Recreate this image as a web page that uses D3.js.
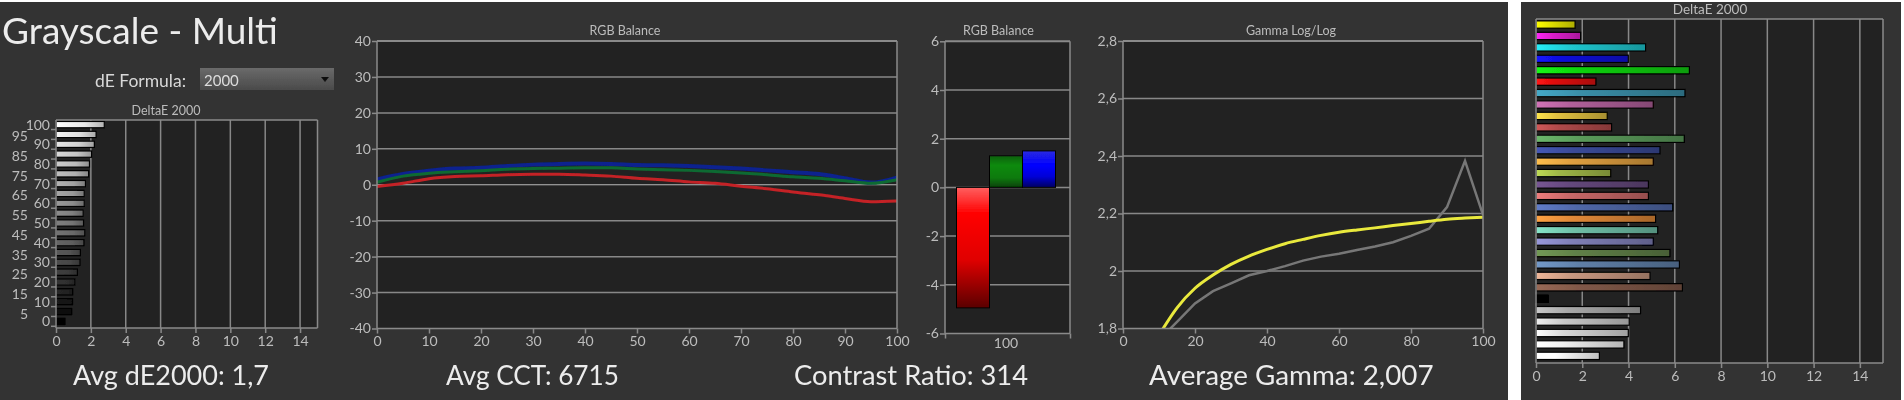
<!DOCTYPE html>
<html lang="en">

<head>
    <title>Grayscale - Multi</title>
    <meta charset="UTF-8">
    <script src="https://cdn.jsdelivr.net/npm/d3@7"></script>
    <style>
        html, body {
            margin: 0;
            padding: 0;
            background: #fff;
            overflow: hidden;
        }

        svg {
            display: block;
            font-family: Lato, "Open Sans", sans-serif;
        }

        .tick text {
            fill: #bcbcbc;
            font-size: 14px;
            font-family: Lato, sans-serif;
        }

        .tick line, .domain {
            stroke: #8a8a8a;
            stroke-width: 1.5;
        }

        .grid {
            stroke: #888888;
            stroke-width: 1.5;
        }

        .plot-title {
            fill: #bcbcbc;
            font-size: 12.5px;
            text-anchor: middle;
        }

        .big-label {
            fill: #ececec;
            font-size: 27px;
        }
    </style>
</head>

<body>
    <div id="wrap"></div>
    <script>
        // grayscale deltaE bars, top to bottom
        var grayLevels = [100, 95, 90, 85, 80, 75, 70, 65, 60, 55, 50, 45, 40, 35, 30, 25, 20, 15, 10, 5, 0];
        var grayDeltaE = [2.77, 2.3, 2.2, 2.04, 1.92, 1.87, 1.69, 1.62, 1.62, 1.56, 1.58, 1.65, 1.6, 1.4, 1.38, 1.23, 1.08, 0.96, 0.95, 0.9, 0.52];

        // rgb balance lines
        var balanceLevels = [0, 5, 10, 15, 20, 25, 30, 35, 40, 45, 50, 55, 60, 65, 70, 75, 80, 85, 90, 95, 100];
        var balanceRed = [-0.5, 0.4, 1.7, 2.3, 2.5, 2.8, 2.9, 2.9, 2.7, 2.4, 1.8, 1.4, 0.8, 0.4, -0.4, -1.1, -2, -2.8, -3.8, -4.7, -4.5];
        var balanceGreen = [0.7, 2.4, 3.2, 3.6, 3.9, 4.3, 4.5, 4.6, 4.7, 4.7, 4.4, 4.2, 4, 3.7, 3.3, 2.8, 2.2, 1.8, 1.1, 0.4, 1.4];
        var balanceBlue = [1.5, 3, 3.9, 4.5, 4.7, 5.2, 5.6, 5.8, 5.9, 5.8, 5.5, 5.4, 5.2, 4.9, 4.5, 4, 3.5, 3, 1.8, 0.6, 2];

        // rgb balance at 100%
        var balanceBarNames = ['R', 'G', 'B'];
        var balanceBarValues = [-4.95, 1.3, 1.5];

        // gamma
        var gammaLevels = [10, 15, 20, 25, 30, 35, 40, 45, 50, 55, 60, 65, 70, 75, 80, 85, 90, 95, 100];
        var gammaTarget = [1.777, 1.872, 1.94, 1.986, 2.023, 2.052, 2.075, 2.095, 2.11, 2.124, 2.135, 2.143, 2.15, 2.158, 2.165, 2.173, 2.18, 2.184, 2.187];
        var gammaMeasured = [1.76, 1.823, 1.887, 1.93, 1.957, 1.985, 2, 2.017, 2.036, 2.05, 2.06, 2.073, 2.085, 2.1, 2.122, 2.147, 2.222, 2.383, 2.195];

        // colour checker deltaE bars, top to bottom
        var patchDeltaE = [1.69, 1.93, 4.74, 3.99, 6.63, 2.59, 6.44, 5.07, 3.08, 3.27, 6.41, 5.36, 5.07, 3.23, 4.86, 4.86, 5.91, 5.17, 5.26, 5.07, 5.79, 6.2, 4.93, 6.33, 0.53, 4.52, 4.03, 3.99, 3.8, 2.74];
        var patchColors = ['#e6e600', '#e020d0', '#20c8d0', '#1010d8', '#10d010', '#e01010', '#3a8ea8', '#b0609a', '#e0c040', '#b04a4a', '#5a9a5a', '#3a4a98', '#e0a040', '#a0b848', '#64487c', '#c86868', '#5068a8', '#e08838', '#70c0a8', '#8080b8', '#608048', '#6080a8', '#c89880', '#805848', '#000000', '#a8a8a8', '#c8c8c8', '#d8d8d8', '#f0f0f0', '#ffffff'];

        var xTicksDelta = [0, 2, 4, 6, 8, 10, 12, 14];
        var balanceTicks = [-40, -30, -20, -10, 0, 10, 20, 30, 40];
        var balanceBarTicks = [-6, -4, -2, 0, 2, 4, 6];
        var gammaTicks = [1.8, 2, 2.2, 2.4, 2.6, 2.8];
        var levelTicks = [0, 10, 20, 30, 40, 50, 60, 70, 80, 90, 100];
        var gammaXTicks = [0, 20, 40, 60, 80, 100];

        var WIDTH = 1904,
            HEIGHT = 400;

        var root = d3.select('#wrap').append('svg').attr('width', WIDTH).attr('height', HEIGHT);
        var defs = root.append('defs');
        var gradId = 0;

        // the source is a soft screenshot, the right panel more so
        defs.append('filter').attr('id', 'softLeft').attr('filterUnits', 'userSpaceOnUse')
            .attr('x', 0).attr('y', 0).attr('width', WIDTH).attr('height', HEIGHT)
            .append('feGaussianBlur').attr('stdDeviation', 0.4);
        defs.append('filter').attr('id', 'softRight').attr('filterUnits', 'userSpaceOnUse')
            .attr('x', 0).attr('y', 0).attr('width', WIDTH).attr('height', HEIGHT)
            .append('feGaussianBlur').attr('stdDeviation', 0.75);

        // backgrounds
        root.append('rect').attr('x', 0).attr('y', 2).attr('width', 1508).attr('height', 398).attr('fill', '#333333');
        root.append('rect').attr('x', 1521).attr('y', 2).attr('width', 380).attr('height', 398).attr('fill', '#333333');

        var svg = root.append('g').attr('filter', 'url(#softLeft)');

        function comma(v) {
            return String(v).replace('.', ',');
        }

        function gradient(stops, vertical) {
            var id = 'grad' + (gradId++);
            var g = defs.append('linearGradient').attr('id', id)
                .attr('x1', 0).attr('y1', 0)
                .attr('x2', vertical ? 0 : 1).attr('y2', vertical ? 1 : 0);
            stops.forEach(function(s) {
                g.append('stop').attr('offset', s[0]).attr('stop-color', s[1]);
            });
            return 'url(#' + id + ')';
        }

        function frame(x0, x1, y0, y1) {
            svg.append('rect').attr('x', x0).attr('y', y0).attr('width', x1 - x0).attr('height', y1 - y0).attr('fill', '#232323');
        }

        function border(x0, x1, y0, y1, topWidth) {
            var g = svg.append('g').attr('fill', 'none').attr('stroke', '#8a8a8a');
            g.append('line').attr('x1', x0).attr('x2', x1).attr('y1', y0).attr('y2', y0).attr('stroke-width', topWidth);
            g.append('line').attr('x1', x1).attr('x2', x1).attr('y1', y0).attr('y2', y1).attr('stroke-width', 1.5);
            g.append('line').attr('x1', x0).attr('x2', x1).attr('y1', y1).attr('y2', y1).attr('stroke-width', 1.5);
            g.append('line').attr('x1', x0).attr('x2', x0).attr('y1', y0).attr('y2', y1).attr('stroke-width', 1.5);
        }

        function vGrid(scale, values, y0, y1) {
            svg.append('g').selectAll('line').data(values).enter().append('line')
                .attr('class', 'grid')
                .attr('x1', function(d) { return scale(d); })
                .attr('x2', function(d) { return scale(d); })
                .attr('y1', y0).attr('y2', y1);
        }

        function hGrid(scale, values, x0, x1) {
            svg.append('g').selectAll('line').data(values).enter().append('line')
                .attr('class', 'grid')
                .attr('x1', x0).attr('x2', x1)
                .attr('y1', function(d) { return scale(d); })
                .attr('y2', function(d) { return scale(d); });
        }

        function xAxis(scale, values, y, fmt) {
            var g = svg.append('g').attr('transform', 'translate(0,' + y + ')')
                .call(d3.axisBottom(scale).tickValues(values).tickSize(5).tickPadding(3).tickFormat(fmt || function(d) { return d; }));
            g.select('.domain').remove();
            return g;
        }

        function yAxis(scale, values, x, fmt) {
            var g = svg.append('g').attr('transform', 'translate(' + x + ',0)')
                .call(d3.axisLeft(scale).tickValues(values).tickSize(5).tickPadding(1).tickFormat(fmt || function(d) { return d; }));
            g.select('.domain').remove();
            return g;
        }

        // ---- title area
        svg.append('text').attr('x', 2).attr('y', 44).attr('fill', '#ececec').attr('font-size', 37).text('Grayscale - Multi');
        svg.append('text').attr('x', 95).attr('y', 87).attr('fill', '#d8d8d8').attr('font-size', 17.5).text('dE Formula:');
        svg.append('rect').attr('x', 200).attr('y', 68).attr('width', 134).attr('height', 22)
            .attr('fill', gradient([[0, '#6a6a6a'], [1, '#4a4a4a']], true));
        svg.append('text').attr('x', 204).attr('y', 86).attr('fill', '#dcdcdc').attr('font-size', 15).text('2000');
        svg.append('path').attr('d', d3.line()([[321, 77], [329, 77], [325, 82]])).attr('fill', '#111');

        // ---- grayscale deltaE
        var x1 = d3.scaleLinear().domain([0, 15]).range([56, 317.5]);
        var y1 = d3.scaleBand().domain(grayLevels).range([119.5, 326.5]).paddingInner(0.36).paddingOuter(0.2);
        frame(56, 317.5, 120, 328);
        vGrid(x1, xTicksDelta.slice(1), 120, 328);
        svg.append('text').attr('class', 'plot-title').attr('x', 166).attr('y', 115).text('DeltaE 2000');

        svg.append('g').selectAll('rect').data(grayLevels).enter().append('rect')
            .attr('x', x1(0))
            .attr('y', function(d) { return y1(d); })
            .attr('height', y1.bandwidth())
            .attr('width', function(d, i) { return x1(grayDeltaE[i]) - x1(0); })
            .attr('stroke', '#000').attr('stroke-width', 1.2)
            .attr('fill', function(d) {
                var c = d3.rgb(255 * d / 100, 255 * d / 100, 255 * d / 100);
                return gradient([[0, c.formatHex()], [0.6, c.darker(0.25).formatHex()], [1, c.darker(1).formatHex()]]);
            });
        border(56, 317.5, 120, 328, 1.5);

        var yTickAxis = svg.append('g').attr('transform', 'translate(56,0)')
            .call(d3.axisLeft(y1).tickSize(5).tickPadding(2));
        yTickAxis.select('.domain').remove();
        yTickAxis.selectAll('.tick line').attr('y1', y1.step() / 2).attr('y2', y1.step() / 2);
        yTickAxis.selectAll('.tick text').attr('x', function(d) { return d % 10 === 0 ? -6 : -28; }).attr('dy', function(d) { return d % 10 === 0 ? '0.35em' : '0.5em'; });
        xAxis(x1, xTicksDelta, 328);

        svg.append('text').attr('class', 'big-label').attr('x', 73).attr('y', 385).text('Avg dE2000: 1,7');

        // ---- rgb balance lines
        var x2 = d3.scaleLinear().domain([0, 100]).range([377, 897]);
        var y2 = d3.scaleLinear().domain([-40, 40]).range([328.5, 41]);
        frame(377, 897, 41, 328.5);
        hGrid(y2, [-30, -20, -10, 10, 20, 30], 377, 897);
        svg.append('line').attr('x1', 377).attr('x2', 897).attr('y1', y2(0)).attr('y2', y2(0)).attr('stroke', '#b8b8b8').attr('stroke-width', 1);
        svg.append('text').attr('class', 'plot-title').attr('x', 625).attr('y', 35).text('RGB Balance');

        var line2 = d3.line().x(function(d, i) { return x2(balanceLevels[i]); }).y(function(d) { return y2(d); }).curve(d3.curveMonotoneX);
        [[balanceBlue, '#08208f', 4], [balanceGreen, '#0f6a32', 3], [balanceRed, '#c42026', 3]].forEach(function(s) {
            svg.append('path').datum(s[0]).attr('d', line2).attr('fill', 'none').attr('stroke', s[1]).attr('stroke-width', s[2]);
        });
        border(377, 897, 41, 328.5, 2);
        xAxis(x2, levelTicks, 328.5);
        yAxis(y2, balanceTicks, 377);

        svg.append('text').attr('class', 'big-label').attr('x', 446).attr('y', 385).attr('style', 'font-size:26.2px').text('Avg CCT: 6715');

        // ---- rgb balance bars
        var x3 = d3.scaleBand().domain(balanceBarNames).range([956.5, 1055.5]).paddingInner(0);
        var y3 = d3.scaleLinear().domain([-6, 6]).range([333.5, 41.3]);
        frame(945, 1070, 41.3, 333.5);
        hGrid(y3, [-4, -2, 0, 2, 4], 945, 1070);
        svg.append('text').attr('class', 'plot-title').attr('x', 998.4).attr('y', 35).text('RGB Balance');

        var barStops = {
            R: [[0, '#ff6060'], [0.22, '#ff0000'], [0.6, '#e00000'], [1, '#5a0000']],
            G: [[0, '#0f5f0f'], [0.3, '#0a8a0a'], [0.7, '#0a7a0a'], [1, '#064006']],
            B: [[0, '#2a2ae0'], [0.4, '#0000ff'], [0.7, '#0000d8'], [1, '#000060']]
        };
        svg.append('g').selectAll('rect').data(balanceBarNames).enter().append('rect')
            .attr('x', function(d) { return x3(d); })
            .attr('width', x3.bandwidth())
            .attr('y', function(d, i) { return Math.min(y3(0), y3(balanceBarValues[i])); })
            .attr('height', function(d, i) { return Math.abs(y3(balanceBarValues[i]) - y3(0)); })
            .attr('stroke', '#000').attr('stroke-width', 1)
            .attr('fill', function(d) { return gradient(barStops[d], true); });
        border(945, 1070, 41.3, 333.5, 2);

        // only one label on this axis, the end ticks have none
        svg.append('g').attr('transform', 'translate(0,333.5)')
            .call(d3.axisBottom(d3.scaleLinear().domain([0, 1]).range([945, 1070])).tickValues([0, 1]).tickSize(5).tickFormat(''))
            .select('.domain').remove();
        svg.append('text').attr('x', 1006).attr('y', 348).attr('text-anchor', 'middle').attr('fill', '#bcbcbc').attr('font-size', 14).text('100');
        yAxis(y3, balanceBarTicks, 945);

        svg.append('text').attr('class', 'big-label').attr('x', 794).attr('y', 385).attr('style', 'font-size:27.3px').text('Contrast Ratio: 314');

        // ---- gamma
        var x4 = d3.scaleLinear().domain([0, 100]).range([1123, 1483]);
        var y4 = d3.scaleLinear().domain([1.8, 2.8]).range([328.5, 41]);
        frame(1123, 1483, 41, 328.5);
        hGrid(y4, [2, 2.2, 2.4, 2.6], 1123, 1483);
        svg.append('text').attr('class', 'plot-title').attr('x', 1291).attr('y', 35).text('Gamma Log/Log');

        defs.append('clipPath').attr('id', 'gammaClip').append('rect')
            .attr('x', 1123).attr('y', 41).attr('width', 360).attr('height', 287.5);

        var lineMeasured = d3.line().x(function(d, i) { return x4(gammaLevels[i]); }).y(function(d) { return y4(d); });
        var lineTarget = d3.line().x(function(d, i) { return x4(gammaLevels[i]); }).y(function(d) { return y4(d); }).curve(d3.curveMonotoneX);
        svg.append('path').datum(gammaMeasured).attr('d', lineMeasured).attr('clip-path', 'url(#gammaClip)')
            .attr('fill', 'none').attr('stroke', '#777777').attr('stroke-width', 2.5);
        svg.append('path').datum(gammaTarget).attr('d', lineTarget).attr('clip-path', 'url(#gammaClip)')
            .attr('fill', 'none').attr('stroke', '#e9e93c').attr('stroke-width', 3);
        border(1123, 1483, 41, 328.5, 2);
        xAxis(x4, gammaXTicks, 328.5);
        yAxis(y4, gammaTicks, 1123, function(d) { return d === 2 ? '2' : comma(d3.format('.1f')(d)); });

        svg.append('text').attr('class', 'big-label').attr('x', 1149).attr('y', 385).attr('style', 'font-size:27.8px').text('Average Gamma: 2,007');

        // ---- colour checker deltaE
        svg = root.append('g').attr('filter', 'url(#softRight)');

        var x5 = d3.scaleLinear().domain([0, 15]).range([1536, 1883]);
        var patchIndex = d3.range(patchDeltaE.length);
        var y5 = d3.scaleBand().domain(patchIndex).range([18.6, 361.8]).paddingInner(0.36).paddingOuter(0.2);
        frame(1536, 1883, 19, 363);
        vGrid(x5, xTicksDelta.slice(1), 19, 363);
        svg.append('text').attr('class', 'plot-title').attr('x', 1710).attr('y', 14).attr('style', 'font-size:13.5px').text('DeltaE 2000');

        svg.append('g').selectAll('rect').data(patchIndex).enter().append('rect')
            .attr('x', x5(0))
            .attr('y', function(d) { return y5(d); })
            .attr('height', y5.bandwidth())
            .attr('width', function(d) { return x5(patchDeltaE[d]) - x5(0); })
            .attr('stroke', '#000').attr('stroke-width', 1.2)
            .attr('fill', function(d) {
                var c = d3.rgb(patchColors[d]);
                return gradient([[0, c.brighter(0.5).formatHex()], [0.3, c.formatHex()], [1, c.darker(0.8).formatHex()]]);
            });
        border(1536, 1883, 19, 363, 1.5);
        xAxis(x5, xTicksDelta, 363);
    </script>

</body>

</html>
